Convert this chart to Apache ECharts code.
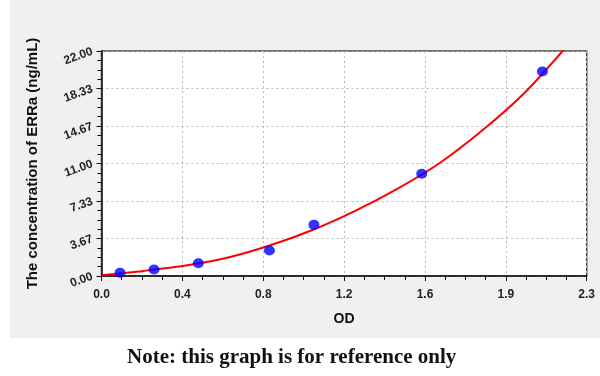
<!DOCTYPE html>
<html>
<head>
<meta charset="utf-8">
<script src="https://cdn.jsdelivr.net/npm/echarts@6/dist/echarts.min.js"></script>
<style>html,body{margin:0;padding:0;background:#fff;}#c{width:600px;height:376px;}</style>
</head>
<body>
<div id="c"></div>
<script>
// Standard points (OD, concentration)
var stdOD   = [0.088, 0.249, 0.459, 0.796, 1.007, 1.518, 2.090];
var stdConc = [0.31, 0.63, 1.25, 2.5, 5, 10, 20];
// Fitted curve
var curveOD   = [0, 0.2, 0.4, 0.6, 0.8, 1.0, 1.2, 1.4, 1.6, 1.8, 2.0, 2.19];
var curveConc = [0.08, 0.5, 1.02, 1.8, 3.0, 4.5, 6.35, 8.5, 11.0, 14.15, 17.8, 22.1];
// Tick labels
var xTickLabels = ['0.0','0.4','0.8','1.2','1.6','1.9','2.3'];
var yTickLabels = ['0.00','3.67','7.33','11.00','14.67','18.33','22.00'];
var xMax = 2.3, yMax = 22;
var xStep = xMax / 6, yStep = yMax / 6;

var stdData = stdOD.map(function (x, i) { return [x, stdConc[i]]; });
var curveData = curveOD.map(function (x, i) { return [x, curveConc[i]]; });

var font = 'Liberation Sans, Arial, sans-serif';
var chart = echarts.init(document.getElementById('c'));
chart.setOption({
  animation: false,
  backgroundColor: '#ffffff',
  graphic: [
    { type: 'rect', z: -10, shape: { x: 10, y: 0, width: 590, height: 338 }, style: { fill: '#f0f0f0' } },
    { type: 'text', left: 127, top: 347, z: 10,
      style: { text: 'Note: this graph is for reference only', font: 'bold 21px "Liberation Serif", "Times New Roman", serif', fill: '#111' } }
  ],
  grid: { left: 101.5, right: 13.3, top: 51, bottom: 100, show: true, backgroundColor: '#ffffff', borderColor: '#444', borderWidth: 1.5 },
  xAxis: {
    type: 'value', min: 0, max: xMax, interval: xStep,
    name: 'OD', nameLocation: 'middle', nameGap: 36,
    nameTextStyle: { fontFamily: font, fontWeight: 'bold', fontSize: 14, color: '#111' },
    axisLine: { lineStyle: { color: '#111', width: 1.5 } },
    axisTick: { show: true, length: 5, lineStyle: { color: '#111' } },
    minorTick: { show: true, splitNumber: 4, length: 4, lineStyle: { color: '#111' } },
    splitLine: { show: true, lineStyle: { color: '#b8b8b8', type: [2, 3], width: 1 } },
    axisLabel: { margin: 13, fontFamily: font, fontWeight: 'bold', fontSize: 12, color: '#222',
      showMinLabel: true, showMaxLabel: true,
      formatter: function (v) { return xTickLabels[Math.round(v / xStep)]; } }
  },
  yAxis: {
    type: 'value', min: 0, max: yMax, interval: yStep,
    name: 'The concentration of ERRa (ng/mL)', nameLocation: 'middle', nameGap: 61,
    nameTextStyle: { fontFamily: font, fontWeight: 'bold', fontSize: 15, color: '#111' },
    axisLine: { show: true, lineStyle: { color: '#111', width: 1.5 } },
    axisTick: { show: true, length: 5, lineStyle: { color: '#111' } },
    minorTick: { show: true, splitNumber: 4, length: 4, lineStyle: { color: '#111' } },
    splitLine: { show: true, lineStyle: { color: '#b8b8b8', type: [2, 3], width: 1 } },
    axisLabel: { margin: 9, rotate: 20, fontFamily: font, fontWeight: 'bold', fontSize: 12, color: '#222',
      showMinLabel: true, showMaxLabel: true,
      formatter: function (v) { return yTickLabels[Math.round(v / yStep)]; } }
  },
  series: [
    { type: 'line', data: curveData, smooth: 0.3, showSymbol: false, clip: true,
      lineStyle: { color: '#ff0000', width: 2 }, z: 2 },
    { type: 'scatter', data: stdData, symbol: 'circle', symbolSize: [11, 10],
      itemStyle: { color: '#0000ff' }, z: 3 }
  ]
});
</script>
</body>
</html>
